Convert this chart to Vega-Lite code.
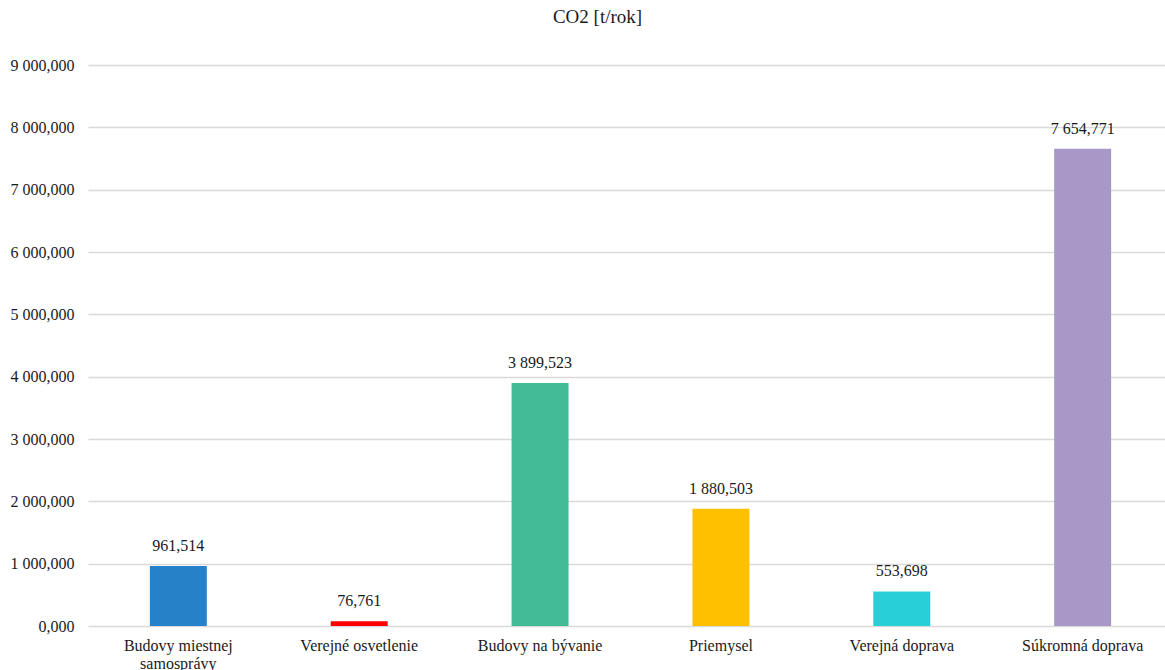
{
  "$schema": "https://vega.github.io/schema/vega-lite/v6.json",
  "width": 1077,
  "height": 561,
  "autosize": {"type": "none"},
  "padding": {"left": 88, "top": 65, "right": 0, "bottom": 44},
  "background": "white",
  "config": {
    "locale": {
      "number": {"decimal": ",", "thousands": " ", "grouping": [3], "currency": ["", " €"]}
    },
    "view": {"stroke": null},
    "font": "Liberation Serif",
    "axis": {"labelFont": "Liberation Serif", "labelFontSize": 16, "labelColor": "#1a1a1a"}
  },
  "title": {
    "text": "CO2 [t/rok]",
    "font": "Liberation Serif",
    "fontSize": 19,
    "fontWeight": "normal",
    "color": "#1a1a1a",
    "anchor": "middle",
    "baseline": "alphabetic",
    "offset": 15,
    "dx": -29
  },
  "data": {
    "values": [
      {"sektor": "Budovy miestnej samosprávy", "co2": 961.514, "farba": "#2781C9"},
      {"sektor": "Verejné osvetlenie", "co2": 76.761, "farba": "#FF0000"},
      {"sektor": "Budovy na bývanie", "co2": 3899.523, "farba": "#43BB97"},
      {"sektor": "Priemysel", "co2": 1880.503, "farba": "#FFC000"},
      {"sektor": "Verejná doprava", "co2": 553.698, "farba": "#29CFD8"},
      {"sektor": "Súkromná doprava", "co2": 7654.771, "farba": "#A898C8"}
    ]
  },
  "encoding": {
    "x": {
      "field": "sektor",
      "type": "nominal",
      "sort": null,
      "title": null,
      "scale": {"range": [0, 1085], "paddingInner": 0.685, "paddingOuter": 0.342},
      "axis": {
        "domain": false,
        "ticks": false,
        "labelAngle": 0,
        "labelPadding": 11,
        "labelLineHeight": 18,
        "labelExpr": "datum.label == 'Budovy miestnej samosprávy' ? ['Budovy miestnej', 'samosprávy'] : datum.label"
      }
    },
    "y": {
      "field": "co2",
      "type": "quantitative",
      "title": null,
      "scale": {"domain": [0, 9000], "nice": false},
      "axis": {
        "values": [0, 1000, 2000, 3000, 4000, 5000, 6000, 7000, 8000, 9000],
        "format": ",.3f",
        "domain": false,
        "ticks": false,
        "labelPadding": 14,
        "gridColor": "#d9d9d9",
        "gridWidth": 1.5
      }
    }
  },
  "layer": [
    {
      "mark": {"type": "bar"},
      "encoding": {
        "color": {"field": "farba", "type": "nominal", "scale": null, "legend": null}
      }
    },
    {
      "mark": {"type": "text", "baseline": "alphabetic", "dy": -15, "fontSize": 16, "color": "#1a1a1a", "font": "Liberation Serif"},
      "encoding": {
        "text": {"field": "co2", "type": "quantitative", "format": ",.3f"}
      }
    }
  ]
}
